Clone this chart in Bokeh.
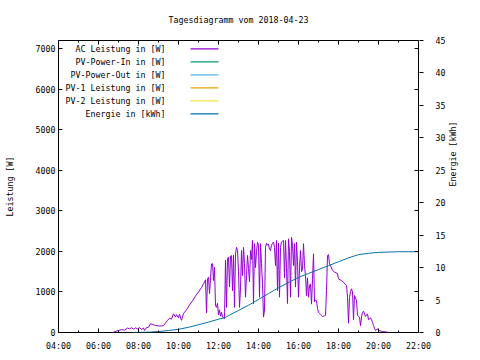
import math
from bokeh.plotting import figure
from bokeh.models import (Range1d, LinearAxis, FixedTicker, Label, BoxAnnotation,
                          CustomLabelingPolicy)
from bokeh.embed import file_html
from bokeh.resources import INLINE

# ---------------- data ----------------
title_text = "Tagesdiagramm vom 2018-04-23"

x_tick_hours = [4, 6, 8, 10, 12, 14, 16, 18, 20, 22]
x_tick_labels = ["04:00", "06:00", "08:00", "10:00", "12:00", "14:00",
                 "16:00", "18:00", "20:00", "22:00"]
x_minor_hours = [5, 7, 9, 11, 13, 15, 17, 19, 21]
power_ticks = [0, 1000, 2000, 3000, 4000, 5000, 6000, 7000]
energy_ticks = [0, 5, 10, 15, 20, 25, 30, 35, 40, 45]

ac_time = ["06:42", "06:51", "07:00", "07:09", "07:18", "07:27", "07:33", "07:39",
           "07:45", "07:51", "07:57", "08:03", "08:09", "08:15", "08:18", "08:24",
           "08:30", "08:36", "08:42", "08:51", "09:00", "09:09", "09:15", "09:21",
           "09:27", "09:33", "09:39", "09:45", "09:51", "09:54", "10:00", "10:03",
           "10:09", "10:15", "10:24", "10:33", "10:42", "10:51", "11:00", "11:09",
           "11:15", "11:21", "11:24", "11:27", "11:30", "11:33", "11:39", "11:42",
           "11:45", "11:48", "11:51", "11:54", "11:57", "12:00", "12:03", "12:06",
           "12:09", "12:12", "12:15", "12:18", "12:21", "12:24", "12:27", "12:30",
           "12:33", "12:36", "12:39", "12:42", "12:45", "12:48", "12:51", "12:54",
           "12:57", "13:00", "13:03", "13:06", "13:09", "13:12", "13:15", "13:18",
           "13:21", "13:24", "13:27", "13:30", "13:33", "13:36", "13:39", "13:42",
           "13:45", "13:48", "13:51", "13:54", "13:57", "14:00", "14:03", "14:06",
           "14:09", "14:12", "14:15", "14:18", "14:21", "14:24", "14:27", "14:30",
           "14:33", "14:36", "14:39", "14:42", "14:45", "14:48", "14:51", "14:54",
           "14:57", "15:00", "15:03", "15:06", "15:09", "15:12", "15:15", "15:18",
           "15:21", "15:24", "15:27", "15:30", "15:33", "15:36", "15:39", "15:42",
           "15:45", "15:48", "15:51", "15:54", "15:57", "16:00", "16:03", "16:06",
           "16:09", "16:12", "16:15", "16:18", "16:21", "16:24", "16:27", "16:30",
           "16:33", "16:36", "16:39", "16:42", "16:45", "16:48", "16:51", "16:54",
           "16:57", "17:00", "17:03", "17:06", "17:09", "17:12", "17:15", "17:18",
           "17:21", "17:24", "17:27", "17:30", "17:33", "17:36", "17:42", "17:48",
           "17:57", "18:00", "18:09", "18:15", "18:24", "18:27", "18:30", "18:33",
           "18:36", "18:39", "18:42", "18:45", "18:48", "18:54", "18:57", "19:03",
           "19:06", "19:09", "19:12", "19:15", "19:21", "19:27", "19:30", "19:36",
           "19:42", "19:45", "19:51", "19:57", "20:00", "20:12", "20:27", "20:30"]
ac_watt = [0, 25, 50, 70, 60, 110, 90, 120,
           80, 115, 90, 120, 75, 110, 50, 120,
           130, 215, 200, 175, 160, 160, 170, 230,
           300, 350, 330, 460, 380, 440, 360, 450,
           300, 470, 560, 680, 780, 900, 1000, 1110,
           1200, 1300, 480, 1320, 1360, 960, 1690, 1700,
           1280, 1610, 660, 620, 720, 430, 560, 400,
           500, 380, 360, 340, 1780, 620, 1820, 1860,
           1120, 1880, 1900, 1030, 1910, 620, 1940, 2100,
           2020, 1500, 620, 1100, 2020, 1400, 2100, 1700,
           870, 1400, 1900, 1580, 1250, 2020, 1800, 2270,
           710, 2190, 1600, 2000, 2230, 2150, 870, 2190,
           1700, 1200, 380, 550, 2100, 2200, 2150, 2180,
           2050, 2020, 2150, 2200, 2230, 2100, 1650, 2270,
           1035, 2200, 870, 2100, 2230, 2250, 2270, 1350,
           2270, 1600, 715, 2310, 2000, 870, 2350, 2150,
           1650, 2190, 1120, 2230, 1750, 870, 1600, 2020,
           1500, 1550, 2190, 1650, 1400, 910, 1350, 870,
           1150, 1200, 700, 1300, 1940, 760, 800, 790,
           590, 500, 470, 450, 420, 395, 400, 410,
           420, 1035, 1900, 1920, 1690, 1650, 1530, 1490,
           1450, 1320, 1280, 1240, 1160, 870, 230, 870,
           1000, 1077, 1000, 313, 912, 790, 420, 380,
           170, 380, 500, 525, 395, 460, 313, 360,
           255, 170, 50, 90, 50, 25, 8, 0]

energy_time = ["07:42", "08:30", "09:00", "09:30", "10:00", "10:30", "11:00", "11:30",
               "12:00", "12:20", "12:30", "13:00", "13:30", "14:00", "14:30", "15:00",
               "15:30", "16:00", "16:30", "17:00", "17:30", "18:00", "18:30", "19:00",
               "19:30", "20:00", "21:00", "22:00"]
energy_kwh = [0.0, 0.05, 0.15, 0.3, 0.5, 0.8, 1.2, 1.6,
              2.05, 2.3, 2.6, 3.4, 4.2, 5.1, 6.0, 6.9,
              7.7, 8.5, 9.1, 9.7, 10.3, 10.9, 11.5, 12.0,
              12.2, 12.35, 12.45, 12.45]

legend_labels = ["AC Leistung in [W]", "PV-Power-In in [W]", "PV-Power-Out in [W]",
                 "PV-1 Leistung in [W]", "PV-2 Leistung in [W]", "Energie in [kWh]"]
legend_colors = ["#9400d3", "#009e73", "#56b4e9", "#e69f00", "#f0e442", "#0072b2"]


def to_hours(t):
    h, m = t.split(":")
    return int(h) + int(m) / 60.0


FONT = "DejaVu Sans Mono"
FS = "8.3px"

p = figure(width=480, height=360, output_backend="svg", toolbar_location=None,
           x_range=Range1d(4, 22), y_range=Range1d(0, 7200),
           min_border_left=58, min_border_right=62, min_border_top=40,
           min_border_bottom=28, background_fill_color="white",
           border_fill_color="white")
p.extra_y_ranges = {"energy": Range1d(0, 45)}
p.grid.visible = False
p.outline_line_color = "black"
p.outline_line_width = 1
p.outline_line_alpha = 1


def style_axis(ax):
    ax.axis_line_color = None
    ax.major_tick_in = 4
    ax.major_tick_out = 0
    ax.minor_tick_in = 2
    ax.minor_tick_out = 0
    ax.major_tick_line_color = "black"
    ax.minor_tick_line_color = "black"
    ax.major_label_text_font = FONT
    ax.major_label_text_font_size = FS
    ax.major_label_text_color = "black"
    ax.axis_label_text_font = FONT
    ax.axis_label_text_font_size = FS
    ax.axis_label_text_font_style = "normal"
    ax.axis_label_text_color = "black"


def mirror_axis(ticks, minor):
    ax = LinearAxis(ticker=FixedTicker(ticks=ticks, minor_ticks=minor),
                    major_label_standoff=0,
                    major_label_policy=CustomLabelingPolicy(code="return []"))
    style_axis(ax)
    ax.major_label_text_font_size = "1px"
    return ax


# bottom axis
xax = p.xaxis[0]
style_axis(xax)
xax.ticker = FixedTicker(ticks=x_tick_hours, minor_ticks=x_minor_hours)
xax.major_label_overrides = {h: lab for h, lab in zip(x_tick_hours, x_tick_labels)}
xax.major_label_standoff = 8

# left axis
yax = p.yaxis[0]
style_axis(yax)
yax.ticker = FixedTicker(ticks=power_ticks, minor_ticks=[])
yax.major_label_standoff = 3
yax.axis_label = "Leistung [W]"
yax.axis_label_standoff = 18

# top mirror axis
p.add_layout(mirror_axis(x_tick_hours, x_minor_hours), "above")
# right mirror axis (power ticks)
p.add_layout(mirror_axis(power_ticks, []), "right")

# right energy axis
eax = LinearAxis(y_range_name="energy",
                 ticker=FixedTicker(ticks=energy_ticks, minor_ticks=[]),
                 axis_label="Energie [kWh]")
style_axis(eax)
eax.major_label_standoff = 12
eax.axis_label_standoff = 5
eax.axis_label_orientation = math.pi / 2
p.add_layout(eax, "right")

# title
p.title.text = title_text
p.title.align = "center"
p.title.text_font = FONT
p.title.text_font_size = FS
p.title.text_font_style = "normal"
p.title.text_color = "black"
p.title.standoff = 24

# series
p.line([to_hours(t) for t in ac_time], ac_watt, color=legend_colors[0], line_width=1)
p.line([to_hours(t) for t in energy_time], energy_kwh, y_range_name="energy",
       color=legend_colors[5], line_width=1)

# gnuplot-style key: right-aligned text, sample line to the right
row0 = 283          # px above the frame bottom
row_step = 13
for i, (lab, col) in enumerate(zip(legend_labels, legend_colors)):
    yy = row0 - i * row_step
    p.add_layout(Label(x=107, y=yy + 1, x_units="screen", y_units="screen", text=lab,
                       text_align="right", text_baseline="middle",
                       text_font=FONT, text_font_size=FS, text_color="black"))
    p.add_layout(BoxAnnotation(left=132, right=160, bottom=yy, top=yy + 1.2,
                               left_units="screen", right_units="screen",
                               bottom_units="screen", top_units="screen",
                               fill_color=col, fill_alpha=1, line_color=None))

open("out.html", "w").write(file_html(p, INLINE))
